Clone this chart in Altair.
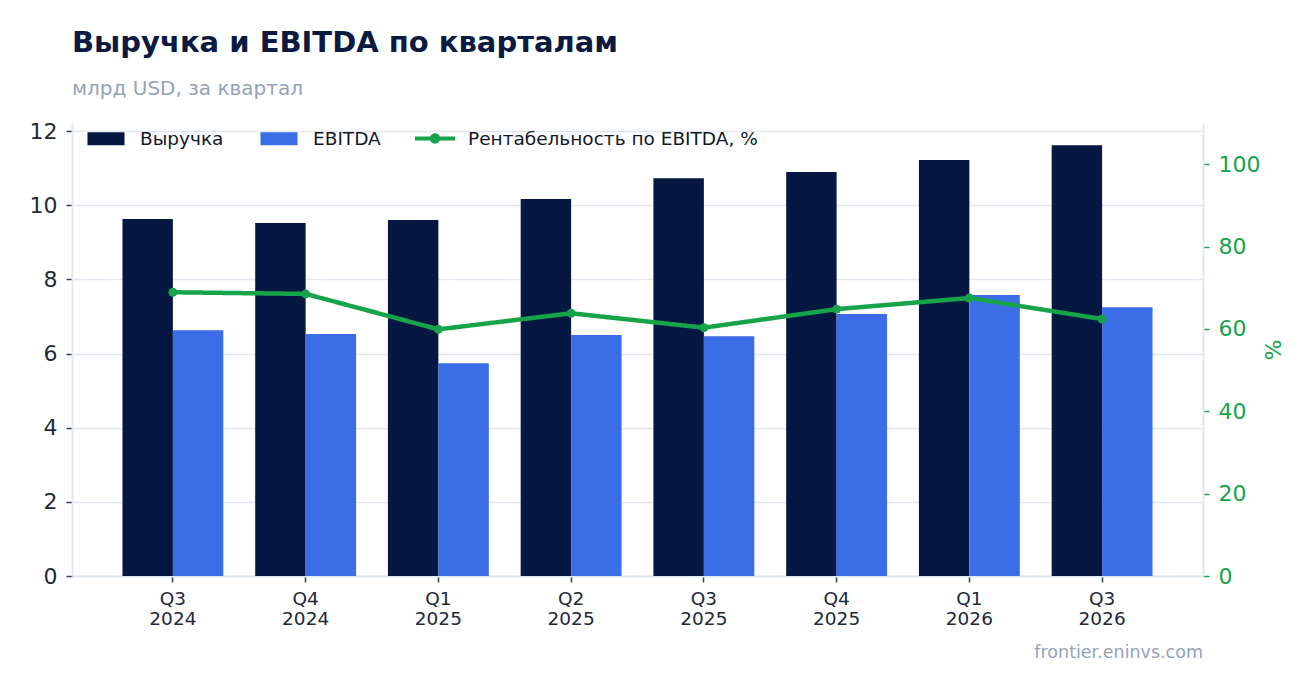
import altair as alt
import pandas as pd

quarters = ["Q3 2024", "Q4 2024", "Q1 2025", "Q2 2025", "Q3 2025", "Q4 2025", "Q1 2026", "Q3 2026"]
revenue = [9.63, 9.52, 9.60, 10.17, 10.73, 10.90, 11.22, 11.62]
ebitda = [6.63, 6.53, 5.74, 6.50, 6.47, 7.07, 7.58, 7.25]
margin = [68.9, 68.5, 59.9, 63.8, 60.3, 64.8, 67.5, 62.4]

S_REV = "Выручка"
S_EB = "EBITDA"
S_MAR = "Рентабельность по EBITDA, %"

NAVY = "#061841"
BLUE = "#3b6de6"
GREEN = "#16a34a"
GRID = "#e2e8f0"
TEXT = "#1e293b"
MUTED = "#94a3b8"
FONT = "DejaVu Sans"

rows = []
for q, r, e in zip(quarters, revenue, ebitda):
    rows.append({"quarter": q, "series": S_REV, "value": r})
    rows.append({"quarter": q, "series": S_EB, "value": e})
df_bars = pd.DataFrame(rows)
df_line = pd.DataFrame({"quarter": quarters, "margin": margin, "name": [S_MAR] * len(quarters)})
df_note = pd.DataFrame({"note": ["frontier.eninvs.com"]})

W, H = 1131, 453

RECT = "M-0.925,-0.325L0.925,-0.325L0.925,0.325L-0.925,0.325Z"
LINE = ("M-1,-0.1L1,-0.1L1,0.1L-1,0.1Z"
        "M-0.26,0A0.26,0.26,0,1,1,0.26,0A0.26,0.26,0,1,1,-0.26,0Z")

x_enc = alt.X(
    "quarter:N",
    sort=quarters,
    title=None,
    scale=alt.Scale(paddingInner=0.24, paddingOuter=0.38),
    axis=alt.Axis(
        labelAngle=0,
        labelExpr="split(datum.label, ' ')",
        labelFontSize=18.5,
        labelLineHeight=20,
        labelColor=TEXT,
        labelPadding=7,
        tickColor="#334155",
        tickSize=6,
        tickWidth=1.5,
        domainColor=GRID,
        domainWidth=2,
        grid=False,
    ),
)

bar_legend = alt.Legend(
    title=None,
    orient="none",
    legendX=14,
    legendY=-4.5,
    direction="horizontal",
    values=[S_REV, S_EB],
    labelFontSize=18.5,
    labelColor="#111827",
    labelFont=FONT,
    labelOffset=14,
    labelLimit=0,
    columnPadding=35,
    symbolSize=1600,
    symbolType=RECT,
    symbolStrokeWidth=0,
    symbolOpacity=1,
)

line_legend = alt.Legend(
    title=None,
    orient="none",
    legendX=343,
    legendY=-4.5,
    direction="horizontal",
    labelFontSize=18.5,
    labelColor="#111827",
    labelFont=FONT,
    labelOffset=13,
    labelLimit=0,
    symbolSize=1600,
    symbolType=LINE,
    symbolFillColor=GREEN,
    symbolStrokeColor=GREEN,
    symbolStrokeWidth=0,
    symbolOpacity=1,
)

color_scale = alt.Scale(domain=[S_REV, S_EB], range=[NAVY, BLUE])

bars = alt.Chart(df_bars).mark_bar().encode(
    x=x_enc,
    xOffset=alt.XOffset("series:N", sort=[S_REV, S_EB], scale=alt.Scale(paddingInner=0, paddingOuter=0)),
    y=alt.Y(
        "value:Q",
        title=None,
        scale=alt.Scale(domain=[0, 12.22], nice=False, zero=True),
        axis=alt.Axis(
            orient="left",
            values=[0, 2, 4, 6, 8, 10, 12],
            labelFontSize=22,
            labelColor=TEXT,
            labelPadding=9,
            tickColor="#334155",
            tickSize=6,
            tickWidth=1.5,
            domainColor=GRID,
            domainWidth=2,
            grid=True,
            gridColor=GRID,
            gridWidth=1.5,
            minExtent=40,
            maxExtent=40,
        ),
    ),
    color=alt.Color("series:N", scale=color_scale, legend=bar_legend),
)

line = alt.Chart(df_line).mark_line(
    strokeWidth=4.5,
    color=GREEN,
    point=alt.OverlayMarkDef(filled=True, size=80, color=GREEN),
).encode(
    x=alt.X("quarter:N", sort=quarters),
    y=alt.Y(
        "margin:Q",
        title="%",
        scale=alt.Scale(domain=[0, 110], nice=False, zero=True),
        axis=alt.Axis(
            orient="right",
            values=[0, 20, 40, 60, 80, 100],
            labelFontSize=22,
            labelColor=GREEN,
            labelPadding=9,
            tickColor=GREEN,
            tickSize=6,
            tickWidth=1.5,
            domainColor=GRID,
            domainWidth=2,
            grid=False,
            titleColor=GREEN,
            titleFontSize=22,
            titleFontWeight="normal",
            titlePadding=0,
        ),
    ),
    strokeDash=alt.StrokeDash("name:N", scale=alt.Scale(domain=[S_MAR], range=[[1, 0]]), legend=line_legend),
)

note = alt.Chart(df_note).mark_text(
    align="right", baseline="alphabetic", fontSize=17.5, color=MUTED, font=FONT
).encode(
    text="note:N",
    x=alt.value(W),
    y=alt.value(H + 82),
)

chart = (
    alt.layer(bars, line, note)
    .resolve_scale(y="independent")
    .properties(
        width=W,
        height=H,
        padding={"left": 21, "top": 20, "right": 10, "bottom": 10},
        title=alt.TitleParams(
            text="Выручка и EBITDA по кварталам",
            subtitle="млрд USD, за квартал",
            anchor="start",
            frame="group",
            fontSize=29,
            fontWeight="bold",
            color="#0a1a40",
            font=FONT,
            subtitleFontSize=20,
            subtitleColor=MUTED,
            subtitleFont=FONT,
            subtitlePadding=21,
            offset=20,
        ),
    )
    .configure(font=FONT, background="white")
    .configure_view(stroke=None)
)

chart.save("out.html", embed_options={"renderer": "svg", "actions": False})
